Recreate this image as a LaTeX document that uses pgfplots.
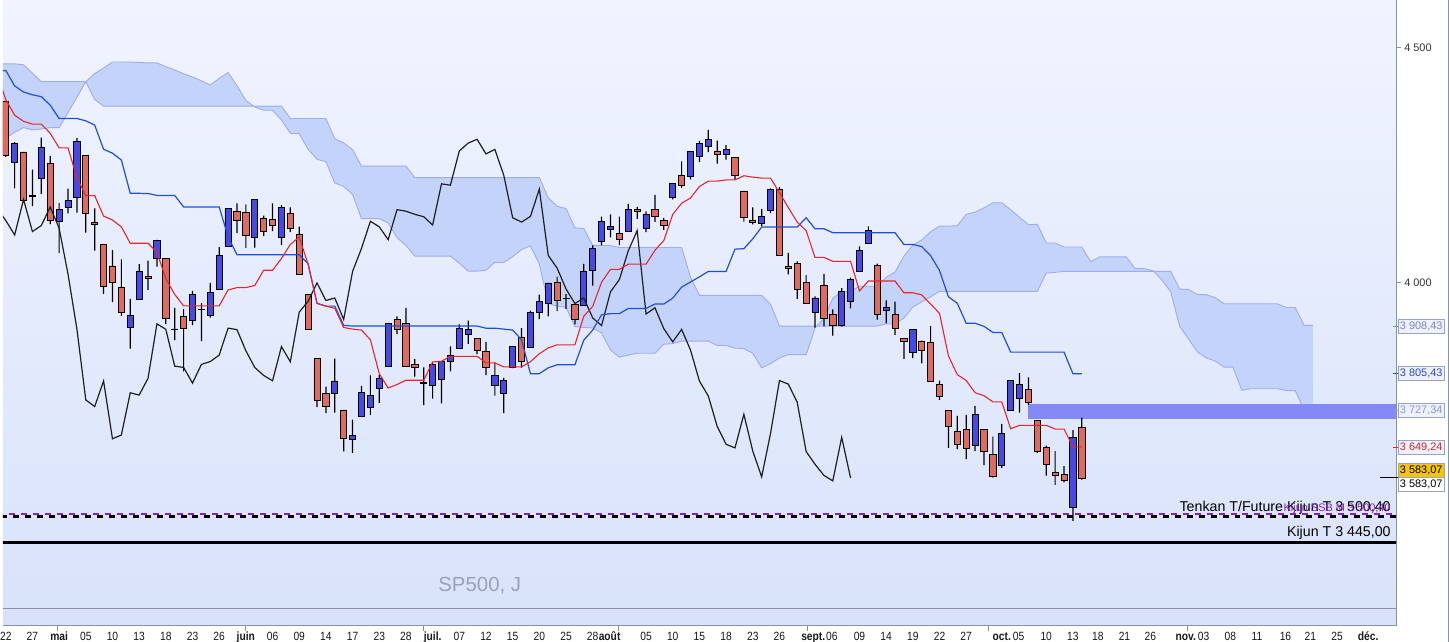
\documentclass[border=0pt]{standalone}
\usepackage{pgfplots}
\pgfplotsset{compat=1.18}
\usepackage{pgfplotstable}
\usepgfplotslibrary{fillbetween}
\usepackage{fontspec}
\setmainfont{Liberation Sans}
\newfontfamily\narrowfont[FakeStretch=0.86]{Liberation Sans}

\definecolor{cblue}{HTML}{4848E2}
\definecolor{cred}{HTML}{DE6A62}
\definecolor{tenkan}{HTML}{E8242C}
\definecolor{kijun}{HTML}{2050D8}
\definecolor{cloudfill}{HTML}{C4D3FA}
\definecolor{cloudedge}{HTML}{A0ACEC}
\definecolor{band}{HTML}{8489F6}
\definecolor{axisgray}{HTML}{8494AE}
\definecolor{bgtop}{HTML}{F1F4FF}
\definecolor{bgbot}{HTML}{D8E2FA}
\definecolor{purpleline}{HTML}{8A22B8}
\definecolor{sptext}{HTML}{98A2BA}
\definecolor{lav}{HTML}{7A86C8}
\definecolor{lblue}{HTML}{2A4AD2}
\definecolor{lav2}{HTML}{8C98D4}
\definecolor{lred}{HTML}{D42828}
\definecolor{lyellow}{HTML}{F7C600}
\definecolor{boxedge}{HTML}{98A4C4}
\definecolor{boxfill}{HTML}{EEF1FA}

% i open high low close (SP500 daily, 22 Apr - 14 Oct)
\pgfplotstableread{
i o h l c
0 4385.8 4385.8 4267.6 4271.8
1 4255.3 4299.0 4200.8 4296.1
2 4278.1 4278.1 4175.0 4175.2
3 4186.5 4240.7 4162.9 4184.0
4 4222.6 4308.5 4188.6 4287.5
5 4253.8 4269.7 4124.3 4131.9
6 4130.6 4169.8 4062.5 4155.4
7 4159.8 4200.1 4147.1 4175.5
8 4181.2 4307.7 4148.9 4300.2
9 4270.4 4270.4 4106.0 4146.9
10 4128.2 4157.7 4067.9 4123.3
11 4081.3 4081.3 3975.5 3991.2
12 4035.2 4068.8 3958.2 4001.1
13 3990.1 4049.1 3928.8 3935.2
14 3904.0 3964.8 3858.9 3930.1
15 3963.9 4038.9 3963.9 4023.9
16 4013.0 4046.5 3984.0 4008.0
17 4052.0 4090.7 4033.9 4088.9
18 4052.0 4052.0 3911.9 3923.7
19 3899.0 3946.0 3876.8 3900.8
20 3927.8 3943.4 3810.3 3901.4
21 3919.4 3981.9 3909.0 3973.8
22 3942.9 3955.7 3875.1 3941.5
23 3929.6 3999.3 3925.0 3978.7
24 3984.6 4075.1 3984.6 4057.8
25 4077.4 4158.5 4077.4 4158.2
26 4151.1 4168.3 4104.9 4132.2
27 4149.8 4166.5 4073.9 4101.2
28 4095.4 4177.5 4074.4 4176.8
29 4137.6 4142.7 4098.7 4108.5
30 4134.7 4168.8 4109.2 4121.4
31 4096.5 4164.9 4080.2 4160.7
32 4147.1 4160.1 4107.2 4115.8
33 4101.7 4119.1 4017.2 4017.8
34 3974.4 3974.4 3900.2 3900.9
35 3838.2 3838.2 3734.3 3749.6
36 3763.5 3778.2 3721.6 3735.5
37 3764.1 3837.5 3722.3 3790.0
38 3728.2 3728.2 3639.8 3666.8
39 3665.9 3707.7 3636.9 3674.8
40 3715.3 3779.7 3715.3 3764.8
41 3733.9 3801.8 3717.7 3759.9
42 3774.7 3802.6 3743.5 3795.7
43 3821.8 3913.7 3821.8 3911.7
44 3920.8 3927.7 3889.7 3900.1
45 3913.0 3945.9 3820.1 3821.6
46 3825.1 3836.5 3799.0 3818.8
47 3786.0 3819.0 3738.7 3785.4
48 3781.0 3829.8 3752.1 3825.3
49 3792.6 3832.2 3742.1 3831.4
50 3832.0 3863.6 3810.4 3845.1
51 3858.9 3910.6 3858.9 3902.6
52 3888.3 3918.5 3869.3 3899.4
53 3880.9 3880.9 3847.2 3854.4
54 3852.0 3873.4 3802.4 3818.8
55 3779.7 3829.4 3758.9 3801.8
56 3764.0 3796.4 3721.6 3790.4
57 3818.0 3863.2 3817.2 3863.2
58 3883.8 3902.4 3818.6 3830.9
59 3860.7 3939.8 3860.7 3936.7
60 3935.3 3974.1 3922.0 3959.9
61 3955.5 3999.3 3927.6 3999.0
62 3999.3 4012.4 3938.9 3961.6
63 3965.7 3975.3 3943.5 3966.8
64 3953.2 3953.2 3910.7 3921.1
65 3951.4 4039.6 3951.4 4023.6
66 4026.1 4079.0 3993.0 4072.4
67 4087.3 4140.2 4079.2 4130.3
68 4112.4 4145.0 4096.0 4118.6
69 4104.2 4140.5 4079.8 4091.2
70 4108.0 4167.7 4108.0 4155.2
71 4154.9 4161.3 4135.4 4151.9
72 4115.9 4151.6 4107.3 4145.2
73 4155.9 4186.6 4129.0 4140.1
74 4133.1 4137.3 4112.1 4122.5
75 4181.0 4211.0 4177.3 4210.2
76 4227.4 4257.9 4201.4 4207.3
77 4225.0 4280.5 4219.8 4280.2
78 4269.4 4301.8 4256.9 4297.1
79 4290.5 4325.3 4277.8 4305.2
80 4280.4 4302.2 4253.1 4274.0
81 4273.1 4292.5 4262.0 4283.7
82 4266.3 4266.3 4218.7 4228.5
83 4195.1 4195.1 4129.9 4138.0
84 4133.1 4159.8 4124.0 4128.7
85 4126.6 4156.6 4120.0 4140.8
86 4153.3 4200.5 4147.6 4199.1
87 4198.7 4203.0 4057.7 4057.7
88 4034.6 4063.0 4017.4 4030.6
89 4041.3 4045.0 3965.2 3986.2
90 4000.7 4015.4 3954.5 3955.0
91 3936.7 3970.2 3903.7 3966.9
92 3994.7 4018.4 3906.2 3924.3
93 3930.9 3942.6 3886.8 3908.2
94 3909.4 3987.9 3906.0 3979.9
95 3959.9 4010.5 3944.8 4006.2
96 4022.9 4076.8 4022.9 4067.4
97 4083.7 4119.3 4083.7 4110.4
98 4037.0 4040.0 3921.0 3932.7
99 3940.7 3961.9 3913.0 3946.0
100 3932.4 3959.1 3888.3 3901.4
101 3881.0 3881.0 3837.1 3873.3
102 3849.9 3900.5 3838.5 3899.9
103 3875.2 3876.0 3827.5 3855.9
104 3871.4 3907.1 3789.5 3789.9
105 3782.4 3790.9 3749.5 3758.0
106 3727.1 3727.1 3647.5 3693.2
107 3682.7 3715.7 3644.8 3655.0
108 3686.4 3717.5 3623.3 3647.3
109 3651.9 3736.7 3640.6 3719.0
110 3687.0 3687.0 3610.4 3640.5
111 3633.5 3671.4 3584.1 3585.6
112 3609.8 3698.4 3604.9 3678.4
113 3726.5 3791.9 3726.5 3790.9
114 3753.3 3806.9 3722.7 3783.3
115 3772.0 3797.9 3739.2 3744.5
116 3706.7 3706.7 3636.7 3639.7
117 3647.5 3652.2 3588.1 3612.4
118 3595.9 3640.7 3568.5 3588.8
119 3590.8 3608.3 3573.9 3577.0
120 3520.4 3685.4 3491.6 3669.9
121 3690.4 3712.0 3579.7 3583.1
}\ohlc

% Tenkan (t) and Kijun (k)
\pgfplotstableread{
i t k
-1 4446 4449
0 4390 4452
1 4356.5 4419
2 4343.5 4406
3 4337.5 4400
4 4337.5 4396
5 4318 4378
6 4287 4349.5
7 4287 4349.5
8 4223.5 4349.5
9 4185 4344.5
10 4185 4335.5
11 4141.5 4284
12 4133 4275.5
13 4118.5 4261
14 4083.5 4190
15 4083.5 4190
16 4083.5 4189.5
17 4064.5 4185.5
18 4008 4185.5
19 3974.5 4185.5
20 3950 4161
21 3950 4161
22 3950 4161
23 3950 4161
24 3950 4161
25 3984 4097.5
26 3989 4059
27 3989 4059
28 3993.5 4059
29 4026 4059
30 4026 4059
31 4051 4059
32 4081 4059
33 4097 4059
34 4038.5 4040
35 3955.5 3955.5
36 3949.5 3949.5
37 3945 3949.5
38 3904 3908.5
39 3900.5 3907
40 3898.5 3907
41 3878 3907
42 3805.5 3907
43 3775 3907
44 3782.5 3907
45 3791.5 3907
46 3791.5 3907
47 3791.5 3907
48 3830.5 3907
49 3832 3907
50 3842.5 3907
51 3842.5 3907
52 3842.5 3907
53 3842.5 3907
54 3828.5 3902.5
55 3828.5 3902.5
56 3820 3900.5
57 3820 3898.5
58 3820 3878
59 3831 3805.5
60 3848 3805.5
61 3860.5 3818
62 3867 3824.5
63 3867 3824.5
64 3867 3824.5
65 3928 3877
66 3949 3898.5
67 4000.5 3931
68 4028 3933.5
69 4028 3933.5
70 4039 3944.5
71 4039 3944.5
72 4039 3944.5
73 4068.5 3954
74 4089.5 3954
75 4145 3966.5
76 4169 3990
77 4180 4001
78 4204.5 4012
79 4216 4023.5
80 4216 4023.5
81 4218.5 4023.5
82 4218.5 4071
83 4227.5 4072
84 4224.5 4093
85 4222.5 4118
86 4222.5 4118
87 4191.5 4118
88 4159.5 4118
89 4128.5 4118
90 4110.5 4138
91 4053.5 4114.5
92 4053.5 4114.5
93 4045 4106
94 4045 4106
95 4045 4106
96 3982 4106
97 4003 4106
98 4003 4106
99 4003 4106
100 4003 4106
101 3978 4081
102 3978 4081
103 3973.5 4076.5
104 3954 4057
105 3934 4025.5
106 3843.5 3969.5
107 3803.5 3955.5
108 3791 3913
109 3765 3913
110 3758.5 3906.5
111 3745.5 3893.5
112 3745.5 3893.5
113 3688 3851.5
114 3695.5 3851.5
115 3695.5 3851.5
116 3695.5 3851.5
117 3695.5 3851.5
118 3687.5 3851.5
119 3687.5 3851.5
120 3649.5 3805.5
121 3649.5 3805.5
}\tk

% Chikou (close shifted back 26)
\pgfplotstableread{
i v
-1 4158.2
0 4132.2
1 4101.2
2 4176.8
3 4108.5
4 4121.4
5 4160.7
6 4115.8
7 4017.8
8 3900.9
9 3749.6
10 3735.5
11 3790.0
12 3666.8
13 3674.8
14 3764.8
15 3759.9
16 3795.7
17 3911.7
18 3900.1
19 3821.6
20 3818.8
21 3785.4
22 3825.3
23 3831.4
24 3845.1
25 3902.6
26 3899.4
27 3854.4
28 3818.8
29 3801.8
30 3790.4
31 3863.2
32 3830.9
33 3936.7
34 3959.9
35 3999.0
36 3961.6
37 3966.8
38 3921.1
39 4023.6
40 4072.4
41 4130.3
42 4118.6
43 4091.2
44 4155.2
45 4151.9
46 4145.2
47 4140.1
48 4122.5
49 4210.2
50 4207.3
51 4280.2
52 4297.1
53 4305.2
54 4274.0
55 4283.7
56 4228.5
57 4138.0
58 4128.7
59 4140.8
60 4199.1
61 4057.7
62 4030.6
63 3986.2
64 3955.0
65 3966.9
66 3924.3
67 3908.2
68 3979.9
69 4006.2
70 4067.4
71 4110.4
72 3932.7
73 3946.0
74 3901.4
75 3873.3
76 3899.9
77 3855.9
78 3789.9
79 3758.0
80 3693.2
81 3655.0
82 3647.3
83 3719.0
84 3640.5
85 3585.6
86 3678.4
87 3790.9
88 3783.3
89 3744.5
90 3639.7
91 3612.4
92 3588.8
93 3577.0
94 3669.9
95 3583.1
}\chikou

% Senkou span A (sa) and B (sb)
\pgfplotstableread{
i sa sb
-1 4300 4466
0 4308 4466
1 4320 4466
2 4330 4464
3 4325 4446
4 4327 4428
5 4330 4428
6 4330 4428
7 4362 4428
8 4395 4428
9 4428 4428
10 4445 4390
11 4457 4376
12 4470 4376
13 4470 4376
14 4470 4376
15 4469 4376
16 4468 4376
17 4468 4376
18 4460 4376
19 4453 4376
20 4445 4376
21 4438 4376
22 4430 4376
23 4421 4376
24 4435 4376
25 4447.5 4376
26 4419.5 4376
27 4388 4376
28 4374 4376
29 4367 4376
30 4367 4376
31 4346.5 4376
32 4318 4349.5
33 4317 4349.5
34 4284 4349.5
35 4262.5 4349.5
36 4257.5 4349.5
37 4212 4306
38 4204.5 4297.5
39 4187.5 4283
40 4136 4248
41 4136 4248
42 4136 4248
43 4127 4248
44 4095.5 4248
45 4079 4248
46 4056 4223.5
47 4056 4223.5
48 4056 4223.5
49 4056 4223.5
50 4056 4223.5
51 4041 4223.5
52 4024 4223.5
53 4024 4223.5
54 4026 4223.5
55 4042.5 4223.5
56 4042.5 4223.5
57 4055 4223.5
58 4070 4223.5
59 4078 4223.5
60 4039 4223.5
61 3955.5 4180.5
62 3949.5 4162.5
63 3947 4157.5
64 3906 4116.5
65 3904 4115
66 3903 4079
67 3892.5 4079
68 3856 4078.5
69 3841 4074.5
70 3845 4074.5
71 3849 4074.5
72 3849 4074.5
73 3849 4074.5
74 3868.5 4074.5
75 3869.5 4074.5
76 3875 4074.5
77 3875 4011
78 3875 3972.5
79 3875 3972.5
80 3865.5 3972.5
81 3865.5 3972.5
82 3860 3972.5
83 3859 3972.5
84 3849 3972.5
85 3818 3972.5
86 3827 3953.5
87 3839 3907
88 3846 3907
89 3846 3907
90 3846 3907
91 3902.5 3907
92 3924 3907
93 3966 3907
94 3981 3907
95 3981 3907
96 3992 3907
97 3992 3907
98 3992 3907
99 4011 3911.5
100 4022 3911.5
101 4056 3924
102 4079.5 3947.5
103 4090.5 3958.5
104 4108 3969.5
105 4120 3981
106 4120 3981
107 4121 3981
108 4145 3981
109 4150 3981
110 4159 3981
111 4170 3981
112 4170 3981
113 4155 3981
114 4139 3981
115 4123 3981
116 4124 3981
117 4084 4020
118 4084 4021.5
119 4075.5 4023.5
120 4075.5 4023.5
121 4075.5 4023.5
122 4044 4023.5
123 4054.5 4023.5
124 4054.5 4023.5
125 4054.5 4023.5
126 4054.5 4023.5
127 4029.5 4023.5
128 4029.5 4023.5
129 4025 4023.5
130 4005.5 4023.5
131 3980 4023.5
132 3906.5 3986
133 3879.5 3985
134 3852 3974
135 3839 3974
136 3832.5 3967.5
137 3819.5 3954.5
138 3819.5 3954.5
139 3770 3954.5
140 3773.5 3954.5
141 3773.5 3954.5
142 3773.5 3954.5
143 3773.5 3954.5
144 3769.5 3946.5
145 3769.5 3946.5
146 3727.5 3908.5
147 3727.5 3908.5
}\cloud

\pgfplotsset{
  ichibase/.style={
    scale only axis, width=1396bp, height=627bp,
    at={(0bp,16bp)}, anchor=south west,
    xmin=-0.3367, xmax=156.34, ymin=3268.1, ymax=4602.1,
    enlargelimits=false,
  },
}

\begin{document}
\pagecolor{white}
\begin{tikzpicture}

% ---- layer A: background, cloud, band
\begin{axis}[ichibase, axis line style={draw=none}, ticks=none,
    axis background/.style={top color=bgtop, bottom color=bgbot}]
  \addplot[draw=none, name path=sa] table[x=i,y=sa]{\cloud};
  \addplot[draw=none, name path=sb] table[x=i,y=sb]{\cloud};
  \addplot[fill=cloudfill, draw=none] fill between[of=sa and sb];
  \addplot[cloudedge, line width=0.9bp] table[x=i,y=sa]{\cloud};
  \addplot[cloudedge, line width=0.9bp] table[x=i,y=sb]{\cloud};
  \addplot[fill=band, draw=none] coordinates {(114.9,3740.4) (157,3740.4) (157,3708.5) (114.9,3708.5)} -- cycle;
\end{axis}

% ---- layer A2: wicks (low to high)
\begin{axis}[ichibase, axis lines=none, ybar stacked, bar width=1.2bp]
  \addplot[draw=none, fill=none] table[x=i, y=l]{\ohlc};
  \addplot[draw=none, fill=black] table[x=i, y expr={\thisrow{h}-\thisrow{l}}]{\ohlc};
\end{axis}

% ---- layer B: candle bodies
\begin{axis}[ichibase, axis lines=none, ybar stacked, bar width=6.2bp]
  \addplot[draw=none, fill=none] table[x=i, y expr={min(\thisrow{o},\thisrow{c})}]{\ohlc};
  \addplot[fill=cblue, draw=black, line width=0.8bp] table[x=i, y expr={max(\thisrow{c}-\thisrow{o},0)}]{\ohlc};
  \addplot[fill=cred, draw=black, line width=0.8bp] table[x=i, y expr={max(\thisrow{o}-\thisrow{c},0)}]{\ohlc};
\end{axis}

% ---- layer C: lines, axes, labels
\begin{axis}[ichibase,
  axis x line*=bottom, axis y line*=right,
  x axis line style={draw=axisgray, line width=0.9bp, -},
  y axis line style={draw=axisgray, line width=0.9bp, -},
  tick align=outside, major tick length=5bp,
  xtick style={draw=none},
  ytick style={draw=axisgray, line width=0.8bp},
  xtick={0,3,6,9,12,15,18,21,24,27,30,33,36,39,42,45,48,51,54,57,60,63,66,67.9,72,75,78,81,84,87,90.8,92.9,96,99,102,105,108,112,113.9,117,120,122.8,125.8,128.7,132.7,134.7,137.7,140.7,143.9,146.7,149.7,153.2},
  xticklabels={22,27,\textbf{mai},05,10,13,18,23,26,\textbf{juin},06,09,14,17,23,28,\textbf{juil.},07,12,15,20,25,28,\textbf{août},05,10,15,18,23,26,\textbf{sept.},06,09,14,19,22,27,\textbf{oct.},05,10,13,18,21,26,\textbf{nov.},03,08,11,16,21,25,\textbf{déc.}},
  xticklabel style={font=\narrowfont\fontsize{12}{14}\selectfont, text=black!90, anchor=base, yshift=-9.5bp},
  ytick={4000,4500},
  yticklabels={4 000,4 500},
  yticklabel style={font=\fontsize{11}{13}\selectfont, text=black!80, anchor=west, inner sep=0pt, xshift=3bp},
]
  \addplot[axisgray, line width=1bp] coordinates {(-1,3304.3) (157,3304.3)};
  \addplot[black!88, line width=1.2bp] table[x=i,y=v]{\chikou};
  \addplot[kijun, line width=1.2bp] table[x=i,y=k]{\tk};
  \addplot[tenkan, line width=1.1bp] table[x=i,y=t]{\tk};
  \addplot[black, line width=3.2bp, dash pattern=on 6bp off 6bp, dash phase=8bp] coordinates {(-1,3501.5) (157,3501.5)};
  \addplot[purpleline, line width=1.8bp, dash pattern=on 6bp off 6bp] coordinates {(-1,3507) (157,3507)};
  \addplot[black, line width=3bp] coordinates {(-1,3445) (157,3445)};
  \node[anchor=base east, inner sep=0pt, font=\fontsize{14.3}{16}\selectfont] at (axis cs:155.75,3512.8) {Tenkan T/Future Kijun T 3 500,40};
  \node[anchor=base east, inner sep=0pt, text=purpleline, font=\fontsize{11}{13}\selectfont] at (axis cs:155.75,3512.8) {Kijun SSB M 3 500,40};
  \node[anchor=base east, inner sep=0pt, font=\fontsize{14.3}{16}\selectfont] at (axis cs:155.75,3458.1) {Kijun T 3 445,00};
  \node[text=sptext, font=\fontsize{20.5}{24}\selectfont] at (axis cs:53.3,3353.2) {SP500, J};
\end{axis}

% month ticks on the time axis
\foreach \mx in {55,243,421,617,806,988,1187}
  \draw[axisgray, line width=0.8bp] (\mx bp,16bp) -- (\mx bp,11bp);

% right border
\draw[axisgray, line width=1bp] (1448bp,0) -- (1448bp,643bp);

% price labels on the right axis
\tikzset{lbl/.style={anchor=west, draw=boxedge, fill=boxfill, line width=0.6bp,
   inner xsep=1.5bp, inner ysep=0pt, minimum height=14bp,
   font=\fontsize{11}{12}\selectfont}}
\draw[lav, line width=0.8bp] (1393bp,316.3bp) -- (1398bp,316.3bp);
\node[lbl, text=lav] at (1398bp,316.3bp) {3 908,43};
\draw[lblue, line width=0.8bp] (1393bp,268.5bp) -- (1398bp,268.5bp);
\node[lbl, text=lblue] at (1398bp,268.5bp) {3 805,43};
\draw[lav2, line width=0.8bp] (1393bp,231.7bp) -- (1398bp,231.7bp);
\node[lbl, text=lav2] at (1398bp,231.7bp) {3 727,34};
\draw[lred, line width=0.8bp] (1393bp,195bp) -- (1398bp,195bp);
\node[lbl, text=lred] at (1398bp,195bp) {3 649,24};
\draw[black, line width=0.8bp] (1380bp,164.5bp) -- (1398bp,164.5bp);
\node[lbl, fill=lyellow, draw=boxedge, text=black] at (1398bp,171.5bp) {3 583,07};
\node[lbl, fill=white, text=black] at (1398bp,157.5bp) {3 583,07};

\pgfresetboundingbox
\path[use as bounding box] (0,0) rectangle (1449bp,643bp);
\end{tikzpicture}
\end{document}
